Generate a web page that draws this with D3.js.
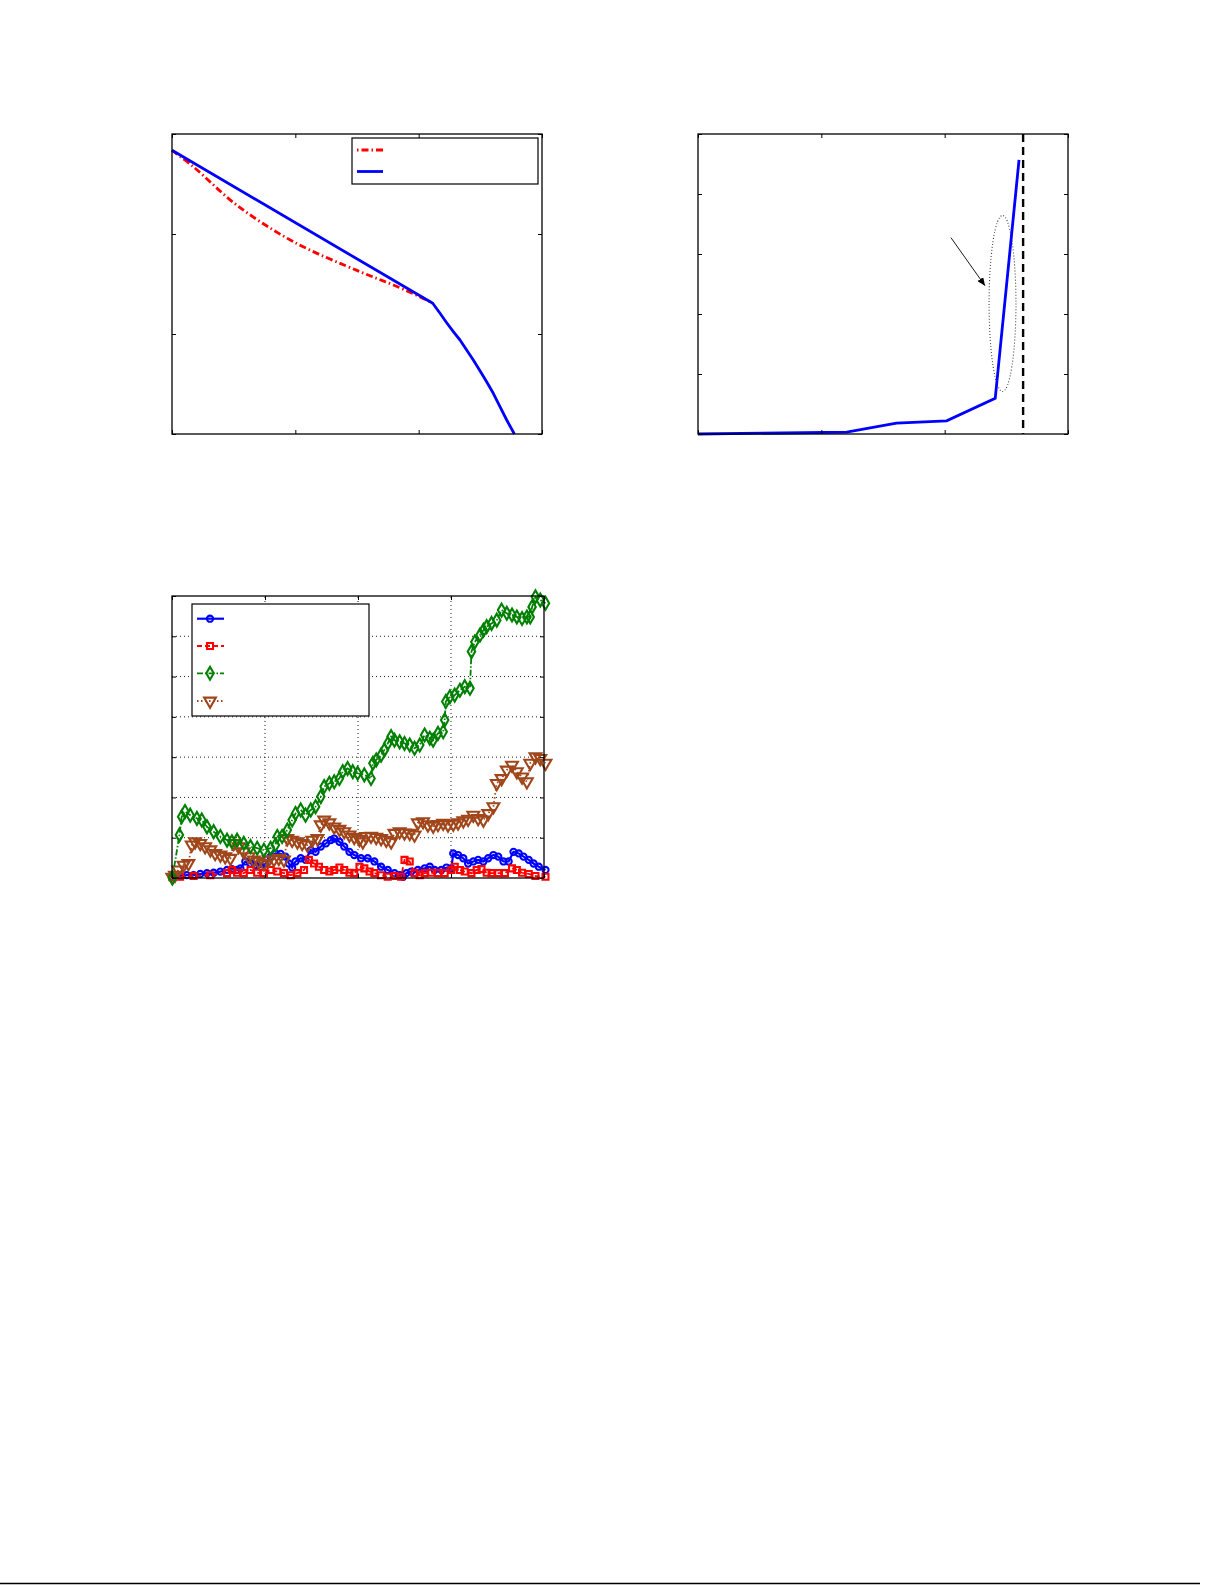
<!DOCTYPE html>
<html><head><meta charset="utf-8">
<script src="https://cdn.jsdelivr.net/npm/d3@7"></script>
<style>body{margin:0;background:#fff}svg{display:block}</style>
</head><body>
<script>
// ---------- Data: panel A ----------
const aBlueX = [0, 2.114, 2.173, 2.227, 2.281, 2.335, 2.389, 2.443, 2.497, 2.551, 2.605, 2.659, 2.714, 2.776];
const aBlueY = [2.837, 1.307, 1.207, 1.113, 1.023, 0.94, 0.84, 0.74, 0.633, 0.523, 0.407, 0.273, 0.14, 0];
const aRedX = [0, 0.173, 0.524, 0.984, 1.524, 1.795, 2.065, 2.114];
const aRedY = [2.837, 2.673, 2.29, 1.923, 1.623, 1.49, 1.34, 1.307];
const aTicks = [0, 1, 2, 3];

// ---------- Data: panel B ----------
const bBlueX = [0, 1.206, 1.609, 2.016, 2.41, 2.603];
const bBlueY = [0, 0.03, 0.18, 0.22, 0.595, 4.567];
const bLimitX = 2.636;
const bEllipse = [2.469, 2.175, 0.109, 1.467]; // cx, cy, rx, ry
const bArrow = [2.051, 3.272, 2.327, 2.472];
const bXTicks = [0, 1, 2, 3];
const bYTicks = [0, 1, 2, 3, 4, 5];

// ---------- Data: panel C ----------
const cBlue = [[0.1,0.02],[2.2,0.05],[4.0,0.07],[5.8,0.07],[7.6,0.10],[9.4,0.12],[11.2,0.13],[13.0,0.16],[14.8,0.20],[16.1,0.22],[17.5,0.20],[18.4,0.24],[19.7,0.41],[21.1,0.36],[22.4,0.32],[23.8,0.28],[25.1,0.36],[26.5,0.53],[27.8,0.61],[29.2,0.60],[30.5,0.53],[31.4,0.36],[32.3,0.26],[33.2,0.41],[34.6,0.49],[35.9,0.45],[37.3,0.69],[38.6,0.65],[40.0,0.78],[41.4,0.86],[42.7,0.94],[43.6,0.98],[45.0,0.90],[46.3,0.78],[47.7,0.65],[49.0,0.57],[50.8,0.49],[52.6,0.49],[54.4,0.41],[56.2,0.28],[58.0,0.20],[59.8,0.12],[61.2,0.07],[62.1,0.03],[63.0,0.12],[64.3,0.16],[66.1,0.20],[67.9,0.24],[69.3,0.28],[70.6,0.20],[72.4,0.20],[73.8,0.26],[75.1,0.24],[75.6,0.61],[76.9,0.57],[78.3,0.49],[79.6,0.36],[81.0,0.41],[82.3,0.45],[83.7,0.41],[85.0,0.49],[86.4,0.57],[87.7,0.53],[89.1,0.41],[90.5,0.41],[91.8,0.65],[93.2,0.61],[94.5,0.53],[95.9,0.45],[97.2,0.36],[98.6,0.28],[100.4,0.20]];
const cRed = [[0.1,0.02],[2.2,0.03],[5.8,0.05],[10.3,0.07],[14.8,0.12],[16.1,0.20],[17.5,0.13],[19.3,0.12],[21.1,0.20],[22.9,0.13],[24.7,0.12],[26.5,0.20],[28.3,0.16],[30.1,0.12],[31.9,0.07],[33.7,0.12],[35.5,0.20],[36.8,0.45],[38.2,0.36],[39.5,0.28],[40.9,0.20],[42.3,0.16],[43.6,0.20],[45.0,0.26],[46.3,0.20],[47.7,0.13],[49.0,0.12],[50.4,0.28],[51.7,0.24],[53.1,0.16],[54.4,0.12],[56.2,0.07],[58.0,0.03],[59.8,0.05],[61.6,0.03],[62.5,0.45],[63.9,0.41],[65.2,0.12],[66.6,0.07],[67.9,0.12],[69.7,0.13],[71.5,0.12],[73.3,0.12],[75.1,0.20],[76.0,0.28],[77.4,0.20],[78.7,0.16],[80.5,0.12],[81.9,0.20],[83.2,0.22],[84.6,0.13],[85.9,0.12],[87.7,0.12],[89.5,0.12],[91.4,0.24],[92.7,0.20],[94.1,0.13],[95.9,0.10],[97.7,0.05],[100.4,0.03]];
const cGreen = [[0.1,0.0],[2.0,1.07],[2.6,1.52],[3.5,1.65],[4.9,1.56],[6.7,1.48],[8.0,1.44],[9.4,1.27],[11.2,1.15],[13.0,1.03],[14.8,0.94],[16.1,0.90],[17.5,0.94],[19.3,0.86],[21.1,0.78],[22.9,0.74],[24.7,0.69],[26.5,0.74],[27.8,0.82],[28.3,1.03],[29.6,1.03],[31.0,1.19],[32.3,1.44],[33.2,1.60],[34.6,1.69],[35.9,1.56],[37.3,1.69],[38.6,1.77],[40.0,2.02],[40.9,2.27],[42.3,2.35],[43.6,2.39],[45.0,2.47],[45.9,2.64],[47.2,2.72],[48.6,2.64],[49.9,2.60],[51.7,2.56],[53.5,2.47],[54.0,2.85],[54.9,2.93],[56.2,3.05],[57.1,3.18],[58.0,3.34],[58.9,3.51],[59.8,3.42],[61.2,3.38],[62.5,3.34],[63.9,3.30],[65.2,3.22],[66.6,3.30],[67.9,3.55],[69.3,3.47],[70.2,3.42],[71.5,3.59],[72.9,3.63],[73.3,3.92],[73.6,4.38],[74.7,4.50],[76.0,4.54],[77.4,4.66],[78.7,4.75],[80.1,4.71],[80.5,5.62],[81.4,5.86],[82.8,6.03],[83.7,6.15],[84.6,6.24],[85.9,6.32],[87.3,6.40],[88.6,6.65],[90.0,6.57],[91.4,6.53],[92.7,6.48],[94.1,6.44],[95.4,6.48],[96.3,6.48],[96.8,6.73],[97.7,6.98],[99.0,6.90],[100.4,6.82]];
const cBrown = [[0.1,0.02],[0.8,0.07],[1.7,0.20],[3.1,0.32],[4.4,0.36],[5.3,0.82],[6.2,0.90],[7.6,0.86],[8.9,0.78],[10.3,0.70],[11.6,0.61],[13.0,0.57],[14.3,0.53],[15.7,0.49],[16.6,0.86],[17.9,0.78],[19.3,0.65],[20.6,0.53],[22.0,0.45],[23.3,0.41],[24.7,0.36],[26.0,0.45],[27.4,0.46],[28.7,0.49],[30.1,0.45],[31.0,0.98],[32.3,0.94],[33.7,0.90],[35.0,0.86],[36.4,0.82],[37.7,0.94],[39.1,0.98],[40.0,1.32],[40.9,1.44],[42.3,1.37],[43.6,1.27],[45.0,1.21],[46.3,1.15],[47.7,1.07],[49.0,1.01],[50.4,0.96],[51.3,0.90],[52.2,1.03],[53.5,1.04],[54.9,1.01],[56.2,0.98],[57.6,0.94],[58.9,0.90],[59.8,1.11],[61.2,1.15],[62.5,1.12],[63.9,1.11],[65.2,1.07],[66.1,1.37],[67.5,1.40],[68.8,1.32],[70.2,1.29],[71.5,1.33],[72.9,1.36],[74.2,1.32],[75.6,1.34],[76.9,1.37],[78.3,1.42],[79.6,1.46],[81.0,1.56],[82.3,1.48],[83.7,1.44],[85.0,1.60],[86.4,1.77],[87.3,2.35],[88.6,2.47],[90.0,2.68],[91.4,2.80],[92.7,2.64],[94.1,2.51],[95.4,2.39],[96.3,2.85],[97.7,3.01],[99.0,2.97],[100.4,2.85]];
const cXTicks = [0, 25, 50, 75, 100];
const cYTicks = [0, 1, 2, 3, 4, 5, 6, 7];

const BLUE = "#0000ff", RED = "#ff0000", GREEN = "#008000", BROWN = "#a0461a";

const svg = d3.select("body").append("svg").attr("width", 1225).attr("height", 1585);

function frame(g, x, y, xt, yt, tl) {
  const [x0, x1] = x.range(), [y0, y1] = y.range();
  g.append("g").attr("transform", `translate(0,${y0})`).call(d3.axisBottom(x).tickValues(xt).tickSize(-tl).tickFormat("")).call(s => s.select(".domain").remove());
  g.append("g").attr("transform", `translate(0,${y1})`).call(d3.axisTop(x).tickValues(xt).tickSize(-tl).tickFormat("")).call(s => s.select(".domain").remove());
  g.append("g").attr("transform", `translate(${x0},0)`).call(d3.axisLeft(y).tickValues(yt).tickSize(-tl).tickFormat("")).call(s => s.select(".domain").remove());
  g.append("g").attr("transform", `translate(${x1},0)`).call(d3.axisRight(y).tickValues(yt).tickSize(-tl).tickFormat("")).call(s => s.select(".domain").remove());
  g.selectAll(".tick line").attr("stroke", "#000").attr("stroke-width", 1);
  g.append("rect").attr("x", x0).attr("y", y1).attr("width", x1 - x0).attr("height", y0 - y1)
    .attr("fill", "none").attr("stroke", "#000").attr("stroke-width", 1.3);
}

// ---------- Panel A ----------
{
  const x = d3.scaleLinear().domain([0, 3]).range([172, 542]);
  const y = d3.scaleLinear().domain([0, 3]).range([434, 134]);
  const g = svg.append("g");
  g.append("path").datum(aRedX.map((v, i) => [v, aRedY[i]]))
    .attr("d", d3.line().x(d => x(d[0])).y(d => y(d[1])).curve(d3.curveCatmullRom))
    .attr("fill", "none").attr("stroke", RED)
    .attr("stroke-width", 2.8).attr("stroke-dasharray", "7,3,1.5,3");
  g.append("path").datum(aBlueX.map((v, i) => [v, aBlueY[i]]))
    .attr("d", d3.line().x(d => x(d[0])).y(d => y(d[1]))).attr("fill", "none").attr("stroke", BLUE)
    .attr("stroke-width", 2.8).attr("stroke-linejoin", "round");
  frame(g, x, y, aTicks, aTicks, 4);
  // legend
  g.append("rect").attr("x", 352).attr("y", 138).attr("width", 186).attr("height", 46)
    .attr("fill", "#fff").attr("stroke", "#000").attr("stroke-width", 1.2);
  g.append("line").attr("x1", 357).attr("x2", 383).attr("y1", 150).attr("y2", 150)
    .attr("stroke", RED).attr("stroke-width", 2.8).attr("stroke-dasharray", "1.5,3,7,3");
  g.append("line").attr("x1", 357).attr("x2", 383).attr("y1", 171.5).attr("y2", 171.5)
    .attr("stroke", BLUE).attr("stroke-width", 2.8);
}

// ---------- Panel B ----------
{
  const x = d3.scaleLinear().domain([0, 3]).range([698, 1068]);
  const y = d3.scaleLinear().domain([0, 5]).range([434, 134]);
  const g = svg.append("g");
  const defs = svg.append("defs");
  defs.append("marker").attr("id", "ah").attr("viewBox", "0 0 10 10").attr("refX", 10).attr("refY", 5)
    .attr("markerWidth", 8).attr("markerHeight", 7).attr("markerUnits", "userSpaceOnUse").attr("orient", "auto")
    .attr("preserveAspectRatio", "none")
    .append("path").attr("d", "M0,0 L10,5 L0,10 Z").attr("fill", "#000");
  g.append("line").attr("x1", x(bLimitX)).attr("x2", x(bLimitX)).attr("y1", y(5)).attr("y2", y(0))
    .attr("stroke", "#000").attr("stroke-width", 2.4).attr("stroke-dasharray", "8,5");
  g.append("ellipse").attr("cx", x(bEllipse[0])).attr("cy", y(bEllipse[1]))
    .attr("rx", x(bEllipse[2]) - x(0)).attr("ry", y(0) - y(bEllipse[3]))
    .attr("fill", "none").attr("stroke", "#444").attr("stroke-width", 1.1).attr("stroke-dasharray", "1,2");
  g.append("line").attr("x1", x(bArrow[0])).attr("y1", y(bArrow[1])).attr("x2", x(bArrow[2])).attr("y2", y(bArrow[3]))
    .attr("stroke", "#000").attr("stroke-width", 0.9).attr("marker-end", "url(#ah)");
  g.append("path").datum(bBlueX.map((v, i) => [v, bBlueY[i]]))
    .attr("d", d3.line().x(d => x(d[0])).y(d => y(d[1]))).attr("fill", "none").attr("stroke", BLUE)
    .attr("stroke-width", 2.8);
  frame(g, x, y, bXTicks, bYTicks, 4);
}

// ---------- Panel C ----------
{
  const x = d3.scaleLinear().domain([0, 100]).range([172, 544]);
  const y = d3.scaleLinear().domain([0, 7]).range([878, 596]);
  const g = svg.append("g");
  // grid
  g.append("g").selectAll("line").data(cXTicks.slice(1, -1)).join("line")
    .attr("x1", d => x(d)).attr("x2", d => x(d)).attr("y1", y(0)).attr("y2", y(7))
    .attr("stroke", "#000").attr("stroke-width", 0.9).attr("stroke-dasharray", "1,3");
  g.append("g").selectAll("line").data(cYTicks.slice(1, -1)).join("line")
    .attr("y1", d => y(d)).attr("y2", d => y(d)).attr("x1", x(0)).attr("x2", x(100))
    .attr("stroke", "#000").attr("stroke-width", 0.9).attr("stroke-dasharray", "1,3");

  const series = [
    { data: cBlue, color: BLUE, dash: null, w: 2.2, mk: "circle" },
    { data: cRed, color: RED, dash: "5,3", w: 1.8, mk: "square" },
    { data: cBrown, color: BROWN, dash: "1.5,2.5", w: 1.8, mk: "triangle" },
    { data: cGreen, color: GREEN, dash: "6,2,1.5,2", w: 1.8, mk: "diamond" }
  ];
  const symType = { circle: d3.symbolCircle, square: d3.symbolSquare, diamond: d3.symbolDiamond, triangle: d3.symbolTriangle };
  const symSize = { circle: 30, square: 36, diamond: 48, triangle: 60 };
  function drawMarker(sel, mk, color) {
    sel.attr("d", d3.symbol().type(symType[mk]).size(symSize[mk]))
      .attr("fill", "none").attr("stroke", color).attr("stroke-width", 2.1);
  }
  const line = d3.line().x(d => x(d[0])).y(d => y(d[1]));
  for (const s of series) {
    g.append("path").datum(s.data).attr("d", line).attr("fill", "none").attr("stroke", s.color)
      .attr("stroke-width", s.w).attr("stroke-dasharray", s.dash);
    g.append("g").selectAll("path").data(s.data).join("path")
      .attr("transform", d => `translate(${x(d[0])},${y(d[1])})${s.mk === "triangle" ? " rotate(180)" : ""}`)
      .call(drawMarker, s.mk, s.color);
  }
  frame(g, x, y, cXTicks, cYTicks, 4);
  // legend
  g.append("rect").attr("x", 192).attr("y", 604).attr("width", 177).attr("height", 112)
    .attr("fill", "#fff").attr("stroke", "#000").attr("stroke-width", 1.2);
  const legRows = [series[0], series[1], series[3], series[2]];
  const ly = [618.7, 646, 673.3, 701];
  legRows.forEach((s, i) => {
    g.append("line").attr("x1", 197).attr("x2", 224).attr("y1", ly[i]).attr("y2", ly[i])
      .attr("stroke", s.color).attr("stroke-width", s.w).attr("stroke-dasharray", s.dash);
    g.append("path").attr("transform", `translate(210,${ly[i]})${s.mk === "triangle" ? " rotate(180)" : ""}`)
      .call(drawMarker, s.mk, s.color);
  });
}

// bottom rule
svg.append("line").attr("x1", 0).attr("x2", 1200).attr("y1", 1583.5).attr("y2", 1583.5)
  .attr("stroke", "#000").attr("stroke-width", 1.5);
</script>
</body></html>
